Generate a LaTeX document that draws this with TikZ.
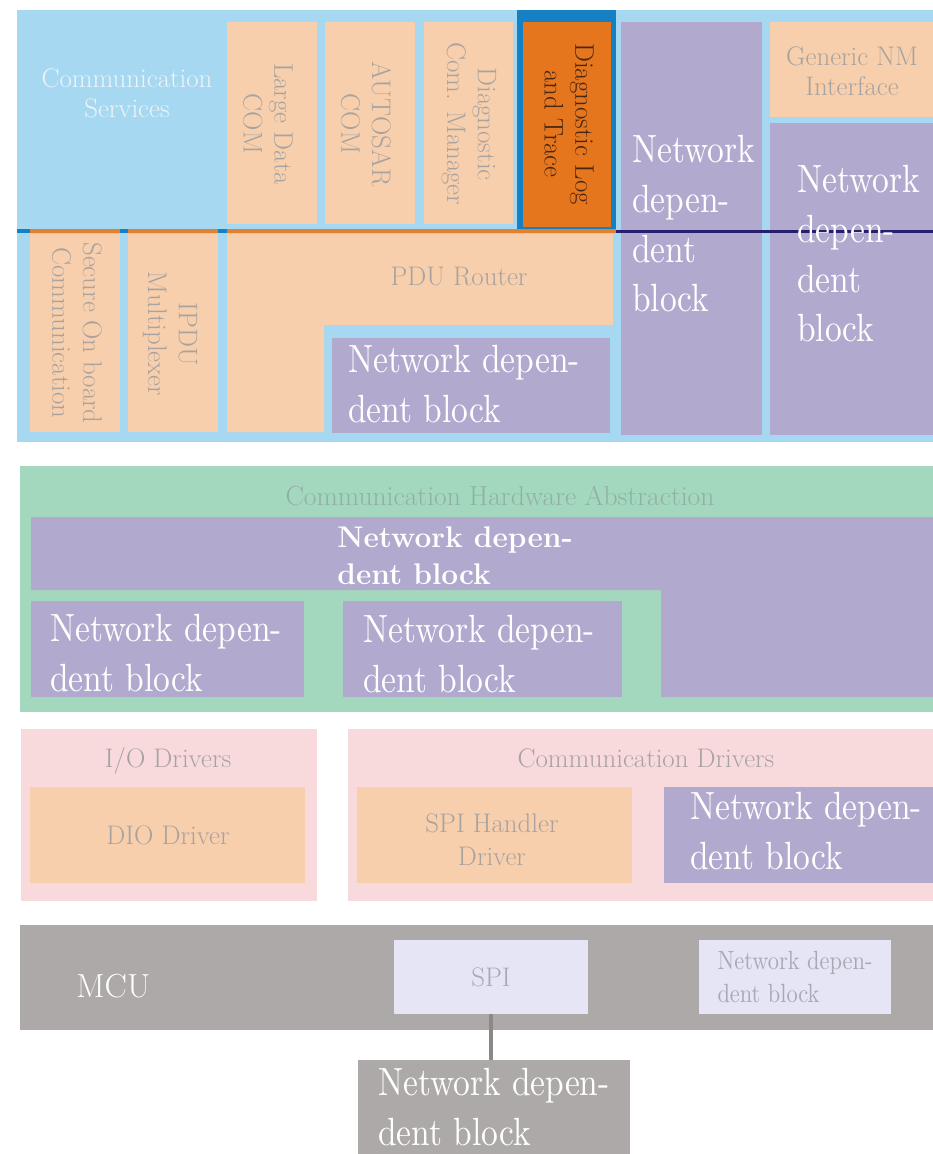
\documentclass[tikz,border=0pt]{standalone}
\usepackage{fontspec}
\newfontfamily\condfont{lmroman10-regular.otf}[FakeStretch=0.85]
\definecolor{skyblue}{RGB}{166,216,241}
\definecolor{peach}{RGB}{248,207,172}
\definecolor{lavender}{RGB}{178,170,206}
\definecolor{dltorange}{RGB}{229,118,30}
\definecolor{dltblue}{RGB}{22,128,196}
\definecolor{navyline}{RGB}{40,30,110}
\definecolor{lineorange}{RGB}{224,128,48}
\definecolor{mint}{RGB}{164,216,190}
\definecolor{pinkbg}{RGB}{248,218,221}
\definecolor{mcugray}{RGB}{173,169,168}
\definecolor{spilav}{RGB}{230,229,245}
\definecolor{txtgray}{RGB}{168,163,160}
\definecolor{cstext}{RGB}{236,244,248}
\definecolor{greentext}{RGB}{143,178,160}
\definecolor{lavtext}{RGB}{170,168,178}
\definecolor{dlttext}{RGB}{70,40,20}
\definecolor{linkgray}{RGB}{140,136,134}
\begin{document}
\begin{tikzpicture}[x=0.02cm,y=-0.02cm,
    lbl/.style={inner sep=0pt,text=txtgray,align=center,font=\fontsize{15.3}{17.5}\selectfont},
    vlbl/.style={lbl,rotate=-90},
    biglbl/.style={inner sep=0pt,text=white,align=left,anchor=north west,font=\condfont\fontsize{22.4}{28.3}\selectfont},
    lavbox/.style={fill=spilav,inner sep=0pt,minimum width=3.9cm,minimum height=1.48cm,text=lavtext}]
\useasboundingbox (0,0) rectangle (933,1154);

% services layer
\fill[skyblue] (17,10) rectangle (933,442);
\fill[peach] (227,22) rectangle (317,224);
\fill[peach] (325,22) rectangle (415,224);
\fill[peach] (424,22) rectangle (513,224);
\fill[dltblue] (517,10) rectangle (616,231);
\fill[dltorange] (523,22) rectangle (611,227);
\fill[lavender] (621,22) rectangle (762,435);
\fill[peach] (770,22) rectangle (933,117);
\fill[lavender] (770,123) rectangle (933,435);
\fill[peach] (30,234) rectangle (120,432);
\fill[peach] (128,234) rectangle (218,432);
\fill[peach] (227,234) -- (613,234) -- (613,325) -- (324,325) -- (324,432) -- (227,432) -- cycle;
\fill[lavender] (332,338) rectangle (610,433);
\draw[dltblue,line width=2.3pt] (17,231) -- (616,231);
\foreach \a/\b in {30/120,128/218,227/616}
    \draw[lineorange,line width=2.3pt] (\a,231) -- (\b,231);
\draw[navyline,line width=1.7pt] (616,231) -- (933,231);

\node[lbl,text=cstext,anchor=north] (comserv) at (127,68) {Communication\\Services};
\node[vlbl] (ldcom) at (268,124) {Large Data\\COM};
\node[vlbl] (ascom) at (366,124) {AUTOSAR\\COM};
\node[vlbl] (dcm) at (469,124) {Diagnostic\\Com. Manager};
\node[vlbl,text=dlttext] (dlt) at (569,124) {Diagnostic Log\\and Trace};
\node[lbl,anchor=north] (gnm) at (852,46) {Generic NM\\Interface};
\node[vlbl] (secoc) at (77,333) {Secure On board\\Communication};
\node[vlbl] (ipdum) at (170,334) {IPDU\\Multiplexer};
\node[lbl,anchor=base] (pdur) at (459,285) {PDU Router};
\node[biglbl] (ndbcola) at (632,135) {Network\\depen-\\dent\\block};
\node[biglbl] (ndbcolb) at (797,165) {Network\\depen-\\dent\\block};
\node[biglbl] (ndbpdu) at (348,345) {Network depen-\\dent block};

% hardware abstraction layer
\fill[mint] (20,466) rectangle (933,712);
\fill[lavender] (31,517) -- (933,517) -- (933,697) -- (661,697) -- (661,590) -- (31,590) -- cycle;
\fill[lavender] (31,601) rectangle (304,697);
\fill[lavender] (343,601) rectangle (622,697);
\node[lbl,anchor=base,text=greentext,font=\fontsize{15.7}{18}\selectfont] (cha) at (500,505) {Communication Hardware Abstraction};
\node[biglbl,font=\bfseries\fontsize{17}{21.5}\selectfont] (ndbtop) at (337,526) {Network depen-\\dent block};
\node[biglbl] (ndbleft) at (50,614) {Network depen-\\dent block};
\node[biglbl] (ndbmid) at (363,615) {Network depen-\\dent block};

% drivers layer
\fill[pinkbg] (21,729) rectangle (317,901);
\fill[peach] (30,787) rectangle (305,883);
\fill[pinkbg] (348,729) rectangle (933,901);
\fill[peach] (357,787) rectangle (632,883);
\fill[lavender] (664,787) rectangle (933,883);
\node[lbl,anchor=base] (iodrv) at (168,767) {I/O Drivers};
\node[lbl,anchor=base] (comdrv) at (646,767) {Communication Drivers};
\node[lbl,anchor=base] (dio) at (168,844) {DIO Driver};
\node[lbl,anchor=north,font=\fontsize{15.3}{18.7}\selectfont] (spihd) at (492,813) {SPI Handler\\Driver};
\node[biglbl] (ndbdrv) at (690,792) {Network depen-\\dent block};

% microcontroller
\fill[mcugray] (20,925) rectangle (933,1030);
\node[anchor=base west,inner sep=0pt,text=white,font=\fontsize{19}{22}\selectfont] (mcu) at (76,997) {MCU};
\node[lavbox,font=\fontsize{15.3}{17.5}\selectfont] (spi) at (491,977) {SPI};
\node[lavbox,minimum width=3.84cm,align=left,font=\condfont\fontsize{15}{18.7}\selectfont] (ndbmcu) at (795,977) {Network depen-\\dent block};
\node[fill=mcugray,inner sep=0pt,minimum width=5.44cm,minimum height=1.88cm,text=white,align=left,font=\condfont\fontsize{22.4}{28.3}\selectfont] (ndbbot) at (494,1107) {Network depen-\\dent block};
\draw[linkgray,line width=2.5pt] (spi.south) -- (spi.south |- ndbbot.north);
\end{tikzpicture}
\end{document}
